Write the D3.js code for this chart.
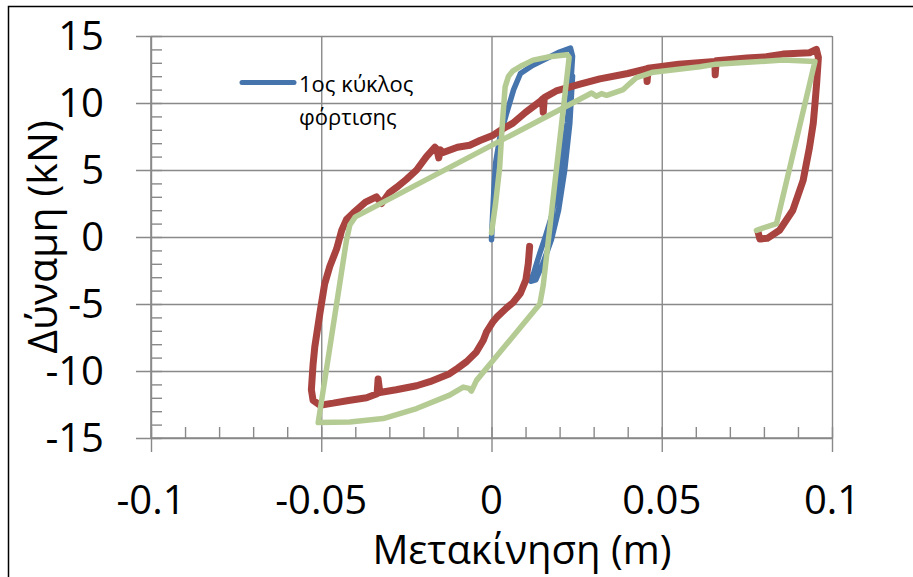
<!DOCTYPE html>
<html lang="el">
<head>
<meta charset="UTF-8">
<title>Δύναμη - Μετακίνηση</title>
<script src="https://d3js.org/d3.v7.min.js"></script>
<style>
  body { margin: 0; background: #fff; }
  text { font-family: "Open Sans", sans-serif; fill: #000; }
</style>
</head>
<body>
<svg id="chart"></svg>
<script>
// ticks
const xTicks = [-0.1, -0.05, 0, 0.05, 0.1];
const xTickLabels = ["-0.1", "-0.05", "0", "0.05", "0.1"];
const yTicks = [-15, -10, -5, 0, 5, 10, 15];
const xMinor = d3.range(-0.1, 0.1001, 0.01).map(v => +v.toFixed(2));
const yMinor = d3.range(-15, 15.1, 1);

// 1st loading cycle (blue)
const blueX = [0, 0.0003, 0.0007, 0.0012, 0.0025, 0.0045, 0.0065, 0.0085, 0.012, 0.016, 0.02, 0.0232,
  0.0238, 0.0232, 0.0222, 0.021, 0.0195, 0.0176, 0.0158, 0.0142, 0.0125, 0.0115,
  0.0130, 0.0152, 0.0176, 0.0197, 0.0215, 0.0230, 0.0238];
const blueY = [-0.2, 1.5, 3.5, 5.5, 7.5, 9.3, 11, 12.2, 12.8, 13.3, 13.8, 14.1,
  13.5, 11, 8.5, 6.5, 4, 1.5, 0, -1.2, -2.6, -3.3,
  -3.2, -1.9, -0.2, 2, 5, 8.5, 12];

// measured cycle (red)
const redX = [0.0112, 0.0108, 0.0101, 0.0085, 0.0063, 0.0044, 0.0015, 0.0005, -0.0015, -0.0024, -0.0045,
  -0.0073, -0.0100, -0.0123, -0.0181, -0.0220, -0.0280, -0.0328, -0.0333, -0.0336, -0.0367, -0.0420,
  -0.0465, -0.0504, -0.0524, -0.0529, -0.0524, -0.0519, -0.0504, -0.0490, -0.0475, -0.0455, -0.0440,
  -0.0426, -0.0406, -0.0370, -0.0338, -0.0323, -0.0300, -0.0279, -0.0250, -0.0220, -0.0191, -0.0166,
  -0.0160, -0.0155, -0.0150, -0.0142, -0.0100, -0.0064, -0.0034, 0.0005, 0.0035, 0.0063, 0.0100,
  0.0142, 0.0150, 0.0152, 0.0155, 0.0190, 0.0260, 0.0318, 0.0400, 0.0455, 0.0457, 0.0460, 0.0550,
  0.0656, 0.0657, 0.0660, 0.0750, 0.0807, 0.0856, 0.0934, 0.0954, 0.0960, 0.0955, 0.0950, 0.0945,
  0.0934, 0.0915, 0.0885, 0.0846, 0.0810, 0.0788, 0.0783];
const redY = [-0.7, -2, -3.2, -4.2, -4.9, -5.3, -6.0, -6.3, -7.1, -7.7, -8.6,
  -9.3, -9.8, -10.2, -10.8, -11.1, -11.4, -11.6, -10.6, -11.7, -12.0, -12.2,
  -12.4, -12.55, -12.2, -11.4, -9.5, -8.2, -5.7, -3.5, -2.2, -0.9, 0.5,
  1.3, 1.8, 2.6, 3.0, 2.5, 3.3, 3.7, 4.3, 5.0, 6.0, 6.7,
  6.5, 5.9, 6.5, 6.3, 6.7, 6.85, 7.2, 7.6, 8.1, 8.5, 9.3,
  10.1, 10.3, 9.3, 10.4, 10.9, 11.4, 11.8, 12.2, 12.55, 11.6, 12.6, 12.9,
  13.1, 12.1, 13.15, 13.35, 13.45, 13.65, 13.75, 14.0, 13.4, 11.5, 9.95, 8.5,
  6.7, 4.2, 2.0, 0.5, -0.1, -0.15, 0.37];

// model cycle (green)
const greenX = [0, 0.0012, 0.0024, 0.0032, 0.004, 0.005, 0.0063, 0.009, 0.0122, 0.017, 0.0222,
  0.0228, 0.0152, 0.0142, 0.0103, 0.0005, -0.0044, -0.0059, -0.0066, -0.0083, -0.0123, -0.0220,
  -0.0318, -0.0416, -0.0509, -0.0426, -0.0416, -0.0400, 0.0294, 0.0308, 0.0323, 0.0338, 0.0387,
  0.0406, 0.0426, 0.0475, 0.0612, 0.0660, 0.0856, 0.0950, 0.0837, 0.0778];
const greenY = [0.3, 2.5, 5.2, 8.5, 11.2, 12.0, 12.4, 12.8, 13.2, 13.45, 13.6,
  13.4, -3.6, -5.0, -6.2, -9.2, -10.7, -11.5, -11.3, -11.2, -11.8, -12.8,
  -13.55, -13.8, -13.85, -0.25, 0.9, 1.5, 10.75, 10.5, 10.7, 10.57, 11.0,
  11.45, 11.9, 12.3, 12.7, 12.9, 13.2, 13.1, 1.0, 0.5];

const width = 913, height = 577;
const svg = d3.select("#chart").attr("width", width).attr("height", height);

svg.append("rect").attr("width", width).attr("height", height).attr("fill", "#fff");
svg.append("rect")
  .attr("x", 8.5).attr("y", 6.5)
  .attr("width", width).attr("height", height)
  .attr("fill", "none").attr("stroke", "#000").attr("stroke-width", 1.5);

const x = d3.scaleLinear().domain([-0.1, 0.1]).range([151, 832]);
const y = d3.scaleLinear().domain([-15, 15]).range([438, 36]);

const gridColor = "#898989";

// horizontal gridlines + outside major ticks
svg.append("g")
  .attr("transform", `translate(${x(0.1)},0)`)
  .call(d3.axisLeft(y).tickValues(yTicks).tickSize(x(0.1) - 136).tickFormat(""))
  .call(g => g.select(".domain").remove())
  .selectAll("line").attr("stroke", gridColor).attr("stroke-width", 1.4);

// vertical gridlines + outside major ticks
svg.append("g")
  .attr("transform", `translate(0,${y(15)})`)
  .call(d3.axisBottom(x).tickValues(xTicks).tickSize(452 - y(15)).tickFormat(""))
  .call(g => g.select(".domain").remove())
  .selectAll("line").attr("stroke", gridColor).attr("stroke-width", 1.4);

// minor ticks inside
svg.append("g")
  .attr("transform", `translate(${x(-0.1)},0)`)
  .call(d3.axisLeft(y).tickValues(yMinor).tickSize(-11).tickFormat(""))
  .call(g => g.select(".domain").remove())
  .selectAll("line").attr("stroke", gridColor).attr("stroke-width", 1.4);
svg.append("g")
  .attr("transform", `translate(0,${y(-15)})`)
  .call(d3.axisBottom(x).tickValues(xMinor).tickSize(-11).tickFormat(""))
  .call(g => g.select(".domain").remove())
  .selectAll("line").attr("stroke", gridColor).attr("stroke-width", 1.4);

// axis lines
svg.append("line")
  .attr("x1", x(-0.1)).attr("x2", x(-0.1)).attr("y1", y(15)).attr("y2", y(-15))
  .attr("stroke", gridColor).attr("stroke-width", 1.6);
svg.append("line")
  .attr("x1", x(-0.1)).attr("x2", x(0.1)).attr("y1", y(-15)).attr("y2", y(-15))
  .attr("stroke", gridColor).attr("stroke-width", 1.6);

// tick labels
svg.append("g").selectAll("text")
  .data(yTicks).join("text")
  .attr("x", 104).attr("y", d => y(d) + 14)
  .attr("text-anchor", "end")
  .attr("font-size", 40)
  .text(d => d);

svg.append("g").selectAll("text")
  .data(xTicks).join("text")
  .attr("x", d => x(d)).attr("y", 514)
  .attr("text-anchor", "middle")
  .attr("font-size", 40)
  .text((d, i) => xTickLabels[i]);

// axis titles
svg.append("text")
  .attr("x", 522).attr("y", 564)
  .attr("text-anchor", "middle")
  .attr("font-size", 40)
  .text("Μετακίνηση (m)");

svg.append("text")
  .attr("transform", `translate(57,${y(0)}) rotate(-90)`)
  .attr("text-anchor", "middle")
  .attr("font-size", 41)
  .text("Δύναμη (kN)");

// curves
const line = d3.line().x(d => x(d[0])).y(d => y(d[1]));
const series = [
  { xs: blueX, ys: blueY, color: "#4674AC", w: 5.5 },
  { xs: redX, ys: redY, color: "#A9433F", w: 7 },
  { xs: greenX, ys: greenY, color: "#B5CB94", w: 5.5 }
];
svg.append("g").selectAll("path")
  .data(series).join("path")
  .attr("d", s => line(s.xs.map((v, i) => [v, s.ys[i]])))
  .attr("fill", "none")
  .attr("stroke", s => s.color)
  .attr("stroke-width", s => s.w)
  .attr("stroke-linejoin", "round")
  .attr("stroke-linecap", "round");

// legend
const legend = svg.append("g");
legend.append("line")
  .attr("x1", 242).attr("x2", 294).attr("y1", 82.5).attr("y2", 82.5)
  .attr("stroke", "#4674AC").attr("stroke-width", 5).attr("stroke-linecap", "round");
legend.append("text").attr("x", 299).attr("y", 91.5).attr("font-size", 22).text("1ος κύκλος");
legend.append("text").attr("x", 299).attr("y", 124.5).attr("font-size", 22).text("φόρτισης");
</script>
</body>
</html>
